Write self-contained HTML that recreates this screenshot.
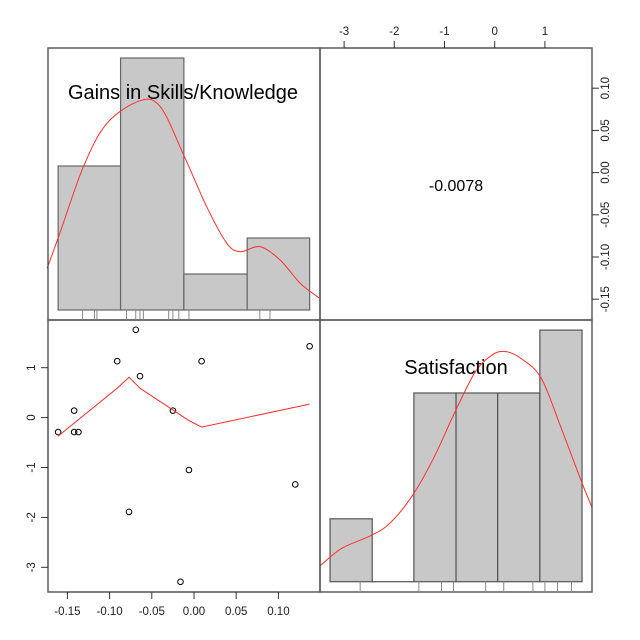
<!DOCTYPE html>
<html><head><meta charset="utf-8"><style>
html,body{margin:0;padding:0;background:#fff;}
svg{display:block;font-family:"Liberation Sans",Arial,sans-serif;}
</style></head><body>
<svg id="chart" width="640" height="640" viewBox="0 0 640 640" xmlns="http://www.w3.org/2000/svg">
<rect x="0" y="0" width="640" height="640" fill="#fff"/>
<g id="g"></g>
</svg>
<script>
// Gains vs Satisfaction scatter data
const gains = [-0.161,-0.142,-0.142,-0.137,-0.091,-0.069,-0.064,-0.077,-0.025,-0.006,-0.016,0.009,0.120,0.137];
const satisfaction = [-0.29,0.14,-0.29,-0.29,1.13,1.76,0.83,-1.89,0.14,-1.05,-3.29,1.13,-1.34,1.43];
// loess smoother
const loessX = [-0.161,-0.091,-0.077,-0.064,-0.006,0.009,0.137];
const loessY = [-0.37,0.59,0.81,0.59,-0.06,-0.19,0.27];
// Gains histogram
const gainsBreaks = [-0.161,-0.087,-0.012,0.063,0.137];
const gainsCounts = [4,7,1,2];
const gainsRug = [-0.132,-0.118,-0.115,-0.080,-0.069,-0.064,-0.060,-0.030,-0.025,-0.018,-0.006,0.078,0.090];
const gainsDensX = [-0.174,-0.159,-0.131,-0.103,-0.064,-0.040,-0.013,0.015,0.039,0.055,0.078,0.102,0.126,0.148];
const gainsDensY = [1.16,2.13,3.98,5.19,5.81,5.65,4.35,2.87,1.85,1.62,1.76,1.39,0.74,0.34];
// Satisfaction histogram
const satBreaks = [-3.28,-2.44,-1.61,-0.77,0.06,0.90,1.74];
const satCounts = [1,0,3,3,3,4];
const satRug = [-2.68,-1.51,-1.06,-0.82,-0.18,0.18,0.76,1.00,1.25,1.53];
const satDensX = [-3.48,-3.05,-2.45,-2.06,-1.59,-1.19,-0.79,-0.39,-0.06,0.21,0.54,0.93,1.33,1.73,1.94];
const satDensY = [0.25,0.53,0.74,0.95,1.43,2.01,2.70,3.33,3.60,3.66,3.54,3.23,2.43,1.59,1.18];
// ticks
const gainsTicks = [-0.15,-0.10,-0.05,0.00,0.05,0.10];
const gainsTickLabels = ["-0.15","-0.10","-0.05","0.00","0.05","0.10"];
const satTicks = [-3,-2,-1,0,1];
const satTickLabels = ["-3","-2","-1","0","1"];
const corrValue = "-0.0078";

const NS="http://www.w3.org/2000/svg";
const g=document.getElementById('g');
function mk(tag,attrs,parent){const e=document.createElementNS(NS,tag);for(const k in attrs)e.setAttribute(k,attrs[k]);(parent||g).appendChild(e);return e;}
function smooth(pts){
  let d='M'+pts[0][0].toFixed(1)+','+pts[0][1].toFixed(1);
  for(let i=0;i<pts.length-1;i++){
    const p0=pts[Math.max(0,i-1)],p1=pts[i],p2=pts[i+1],p3=pts[Math.min(pts.length-1,i+2)];
    const c1=[p1[0]+(p2[0]-p0[0])/6,p1[1]+(p2[1]-p0[1])/6];
    const c2=[p2[0]-(p3[0]-p1[0])/6,p2[1]-(p3[1]-p1[1])/6];
    d+=` C${c1[0].toFixed(1)},${c1[1].toFixed(1)} ${c2[0].toFixed(1)},${c2[1].toFixed(1)} ${p2[0].toFixed(1)},${p2[1].toFixed(1)}`;
  }
  return d;
}
// axis functions
const gx = v => 194 + v*844;
const gy = v => 172.6 - v*844;
const sx = v => 494.7 + v*50.2;
const sy = v => 417.6 - v*49.9;
const ghy = c => 310 - c*36;
const shy = c => 581.7 - c*62.9;

// Gains histogram
for(let i=0;i<gainsCounts.length;i++){
  const x0=gx(gainsBreaks[i]),x1=gx(gainsBreaks[i+1]);
  const r=mk('rect',{x:x0,y:ghy(gainsCounts[i]),width:x1-x0,height:ghy(0)-ghy(gainsCounts[i]),fill:'#c8c8c8',stroke:'#666','stroke-width':1.2});
  
  
}
gainsRug.forEach(v=>{
  const l=mk('line',{x1:gx(v),x2:gx(v),y1:ghy(0),y2:319,stroke:'#888','stroke-width':1});
  
  
});
let pth=mk('path',{d:smooth(gainsDensX.map((v,i)=>[gx(v),ghy(gainsDensY[i])])),fill:'none',stroke:'#ff3030','stroke-width':1});


let t=mk('text',{x:183,y:99,'font-size':20,'text-anchor':'middle',fill:'#000'});t.textContent='Gains in Skills/Knowledge';



// Satisfaction histogram
for(let i=0;i<satCounts.length;i++){
  const x0=sx(satBreaks[i]),x1=sx(satBreaks[i+1]);
  const h=Math.max(0.01,shy(0)-shy(satCounts[i]));
  const r=mk('rect',{x:x0,y:shy(0)-h,width:x1-x0,height:h,fill:'#c8c8c8',stroke:'#555','stroke-width':1.2});
  
  
}
satRug.forEach(v=>{
  const l=mk('line',{x1:sx(v),x2:sx(v),y1:shy(0),y2:591,stroke:'#888','stroke-width':1});
  
  
});
pth=mk('path',{d:smooth(satDensX.map((v,i)=>[sx(v),shy(satDensY[i])])),fill:'none',stroke:'#ff3030','stroke-width':1});


t=mk('text',{x:456,y:374,'font-size':20,'text-anchor':'middle',fill:'#000'});t.textContent='Satisfaction';



// Correlation text
t=mk('text',{x:456,y:191,'font-size':16,'text-anchor':'middle',fill:'#000'});t.textContent=corrValue;



// Scatter
gains.forEach((v,i)=>{
  const c=mk('circle',{cx:gx(v),cy:sy(satisfaction[i]),r:2.8,fill:'none',stroke:'#000','stroke-width':1});
  
  
});
pth=mk('path',{d:loessX.map((v,i)=>(i?'L':'M')+gx(v).toFixed(1)+','+sy(loessY[i]).toFixed(1)).join(' '),fill:'none',stroke:'#ff3030','stroke-width':1});



// Panels (drawn on top so borders are crisp)
[[48,48],[320,48],[48,320],[320,320]].forEach((p,i)=>{
  const r=mk('rect',{x:p[0],y:p[1],width:272,height:272,fill:'none',stroke:'#444','stroke-width':1.3});
  
  
});

// Axes
const ax='#333';
let l=mk('line',{x1:gx(gainsTicks[0]),x2:gx(gainsTicks[gainsTicks.length-1]),y1:592,y2:592,stroke:ax});


gainsTicks.forEach((v,i)=>{
  mk('line',{x1:gx(v),x2:gx(v),y1:592,y2:599,stroke:ax});
  const tx=mk('text',{x:gx(v),y:615,'font-size':11.5,'text-anchor':'middle',fill:'#222'});tx.textContent=gainsTickLabels[i];
  
  
});
l=mk('line',{x1:592,x2:592,y1:gy(gainsTicks[gainsTicks.length-1]),y2:gy(gainsTicks[0]),stroke:ax});


gainsTicks.forEach((v,i)=>{
  mk('line',{x1:592,x2:599,y1:gy(v),y2:gy(v),stroke:ax});
  const tx=mk('text',{x:0,y:0,'font-size':11.5,'text-anchor':'middle',fill:'#222',transform:`translate(609,${gy(v)}) rotate(-90)`});tx.textContent=gainsTickLabels[i];
  
  
});
l=mk('line',{x1:sx(satTicks[0]),x2:sx(satTicks[satTicks.length-1]),y1:48,y2:48,stroke:ax});


satTicks.forEach((v,i)=>{
  mk('line',{x1:sx(v),x2:sx(v),y1:41,y2:48,stroke:ax});
  const tx=mk('text',{x:sx(v),y:35,'font-size':11.5,'text-anchor':'middle',fill:'#222'});tx.textContent=satTickLabels[i];
  
  
});
l=mk('line',{x1:48,x2:48,y1:sy(satTicks[satTicks.length-1]),y2:sy(satTicks[0]),stroke:ax});


satTicks.forEach((v,i)=>{
  mk('line',{x1:41,x2:48,y1:sy(v),y2:sy(v),stroke:ax});
  const tx=mk('text',{x:0,y:0,'font-size':11.5,'text-anchor':'middle',fill:'#222',transform:`translate(35,${sy(v)}) rotate(-90)`});tx.textContent=satTickLabels[i];
  
  
});
</script>
</body></html>
